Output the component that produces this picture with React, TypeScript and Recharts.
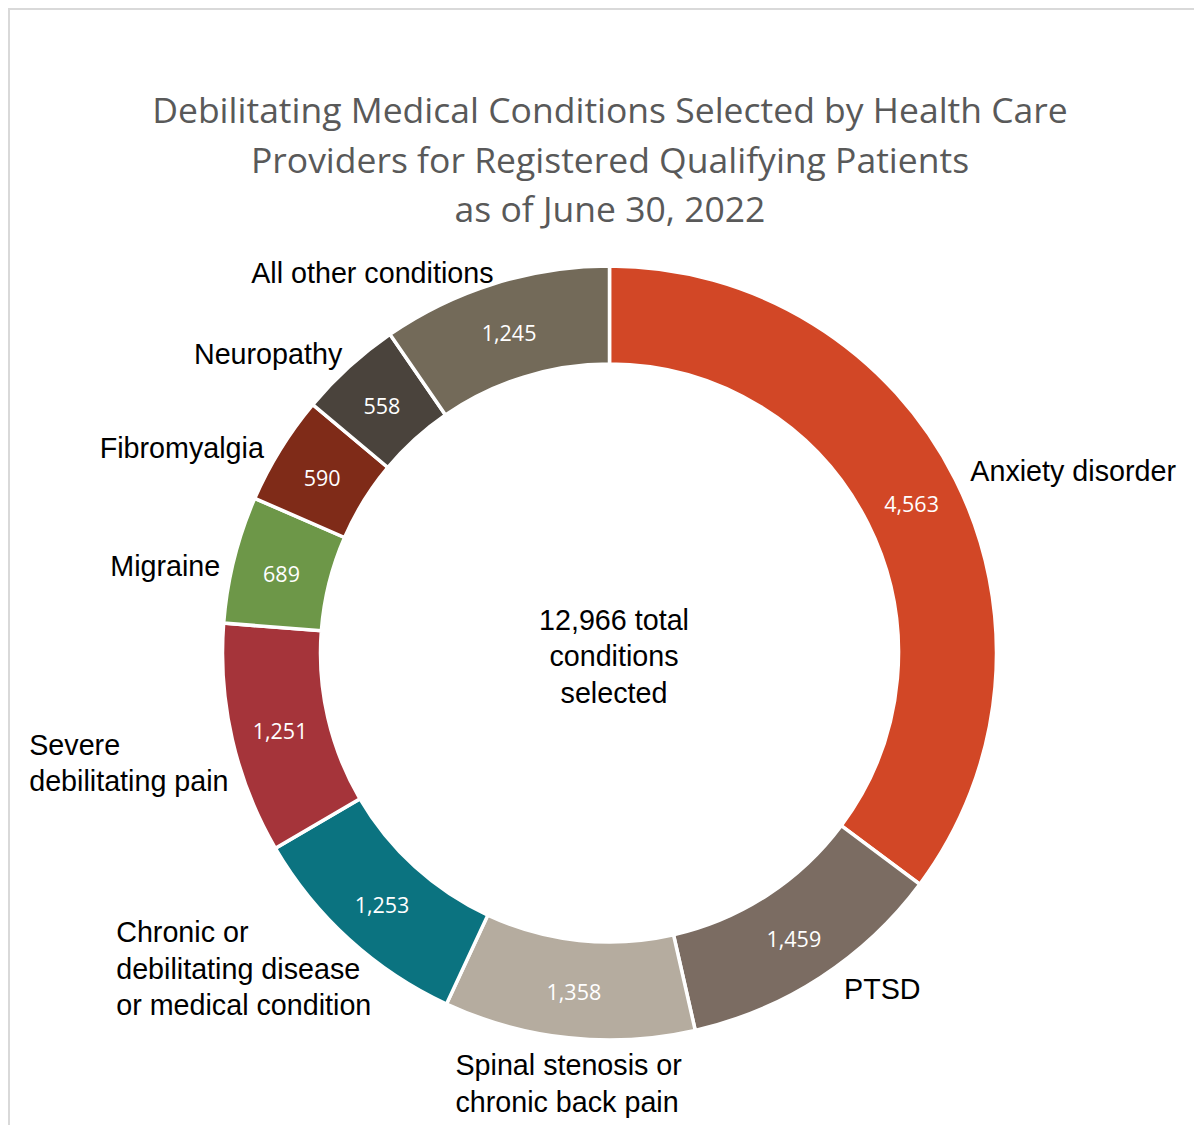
import React from "react";
import { PieChart, Pie, Cell, Label } from "recharts";

const categories: string[] = [
  "Anxiety disorder",
  "PTSD",
  "Spinal stenosis or\nchronic back pain",
  "Chronic or\ndebilitating disease\nor medical condition",
  "Severe\ndebilitating pain",
  "Migraine",
  "Fibromyalgia",
  "Neuropathy",
  "All other conditions",
];

const counts: number[] = [4563, 1459, 1358, 1253, 1251, 689, 590, 558, 1245];

const colors: string[] = [
  "#D24726",
  "#7B6C62",
  "#B5AC9F",
  "#0B7380",
  "#A5343A",
  "#6D9748",
  "#7F2B18",
  "#4A433C",
  "#736A59",
];

// label layout nudges (px) relative to the generic outside-label position
const labelNudges: [number, number][] = [
  [6, -4],
  [18, 3],
  [1, -1],
  [29, 22],
  [6, 21],
  [-4, 9],
  [-8, 4],
  [0, -5],
  [2, -1],
];

const titleLines: string[] = [
  "Debilitating Medical Conditions Selected by Health Care",
  "Providers for Registered Qualifying Patients",
  "as of June 30, 2022",
];

const data = categories.map((name, i) => ({ name, value: counts[i] }));
const total = counts.reduce((a, b) => a + b, 0);

const RAD = Math.PI / 180;
const LABEL_FONT = "'Liberation Sans', Arial, sans-serif";
const LABEL_SIZE = 28.7;
const VALUE_FONT = "'Open Sans', 'Noto Sans', sans-serif";

let measureCtx: CanvasRenderingContext2D | null = null;
const measure = (s: string): number => {
  if (typeof document === "undefined") return s.length * LABEL_SIZE * 0.55;
  if (!measureCtx) {
    const c = document.createElement("canvas");
    measureCtx = c.getContext("2d");
  }
  if (!measureCtx) return s.length * LABEL_SIZE * 0.55;
  measureCtx.font = `${LABEL_SIZE}px 'Liberation Sans', Arial, sans-serif`;
  return measureCtx.measureText(s).width;
};

const renderLabel = (props: any) => {
  const { cx, cy, midAngle, innerRadius, outerRadius, index, value } = props;
  const ux = Math.cos(-midAngle * RAD);
  const uy = Math.sin(-midAngle * RAD);
  const mr = (innerRadius + outerRadius) / 2;
  const vx = cx + mr * ux;
  const vy = cy + mr * uy + 2;
  const pr = outerRadius + 10;
  const [nx, ny] = labelNudges[index] || [0, 0];
  const px = cx + pr * ux + nx;
  const py = cy + pr * uy + ny;
  const anchor = ux > 0.2 ? "start" : ux < -0.2 ? "end" : "middle";
  const lines = String(categories[index]).split("\n");
  const L = 36.5;
  let centerY = py;
  if (anchor === "middle" && uy > 0) centerY = py + (lines.length * L) / 2;
  const blockW = Math.max(...lines.map(measure));
  const left = anchor === "start" ? px : anchor === "end" ? px - blockW : px - blockW / 2;
  return (
    <g>
      <text
        x={vx}
        y={vy}
        textAnchor="middle"
        dominantBaseline="central"
        fill="#ffffff"
        fontFamily={VALUE_FONT}
        fontSize={21.5}
      >
        {Number(value).toLocaleString("en-US")}
      </text>
      {lines.map((ln, i) => (
        <text
          key={i}
          x={left}
          y={centerY + (i - (lines.length - 1) / 2) * L}
          textAnchor="start"
          dominantBaseline="central"
          fill="#000000"
          fontFamily={LABEL_FONT}
          fontSize={LABEL_SIZE}
        >
          {ln}
        </text>
      ))}
    </g>
  );
};

const CenterText = (props: any) => {
  const vb = props.viewBox || {};
  const cx = vb.cx ?? 609.5;
  const cy = vb.cy ?? 653;
  const lines = [`${total.toLocaleString("en-US")} total`, "conditions", "selected"];
  return (
    <g>
      {lines.map((ln, i) => (
        <text
          key={i}
          x={cx + 4.5}
          y={cy + 3 + (i - 1) * 36.5}
          textAnchor="middle"
          dominantBaseline="central"
          fill="#000000"
          fontFamily={LABEL_FONT}
          fontSize={LABEL_SIZE}
        >
          {ln}
        </text>
      ))}
    </g>
  );
};

export default function App() {
  return (
    <div
      style={{
        position: "relative",
        width: 1202,
        height: 1125,
        marginLeft: -8,
        marginTop: -8,
        overflow: "hidden",
        background: "#ffffff",
      }}
    >
      <div
        style={{
          position: "absolute",
          left: 0,
          top: 85,
          width: 1220,
          textAlign: "center",
          fontFamily: "'Open Sans', 'Noto Sans', sans-serif",
          fontSize: 35.5,
          lineHeight: "49.5px",
          color: "#595959",
        }}
      >
        {titleLines.map((t, i) => (
          <div key={i}>{t}</div>
        ))}
      </div>
      <div style={{ position: "absolute", left: 0, top: 0 }}>
        <PieChart width={1202} height={1125} margin={{ top: 0, right: 0, bottom: 0, left: 0 }}>
          <Pie
            data={data}
            dataKey="value"
            nameKey="name"
            cx={609.5}
            cy={653}
            innerRadius={289}
            outerRadius={387}
            startAngle={90}
            endAngle={-270}
            stroke="#ffffff"
            strokeWidth={3.5}
            isAnimationActive={false}
            labelLine={false}
            label={renderLabel}
          >
            {data.map((_, i) => (
              <Cell key={i} fill={colors[i]} />
            ))}
            <Label position="center" content={<CenterText />} />
          </Pie>
        </PieChart>
      </div>
      <svg
        width={1202}
        height={1125}
        style={{ position: "absolute", left: 0, top: 0, pointerEvents: "none" }}
      >
        <line x1={8} y1={9} x2={1202} y2={9} stroke="#d9d9d9" strokeWidth={2} />
        <line x1={9} y1={8} x2={9} y2={1125} stroke="#d9d9d9" strokeWidth={2} />
      </svg>
    </div>
  );
}
